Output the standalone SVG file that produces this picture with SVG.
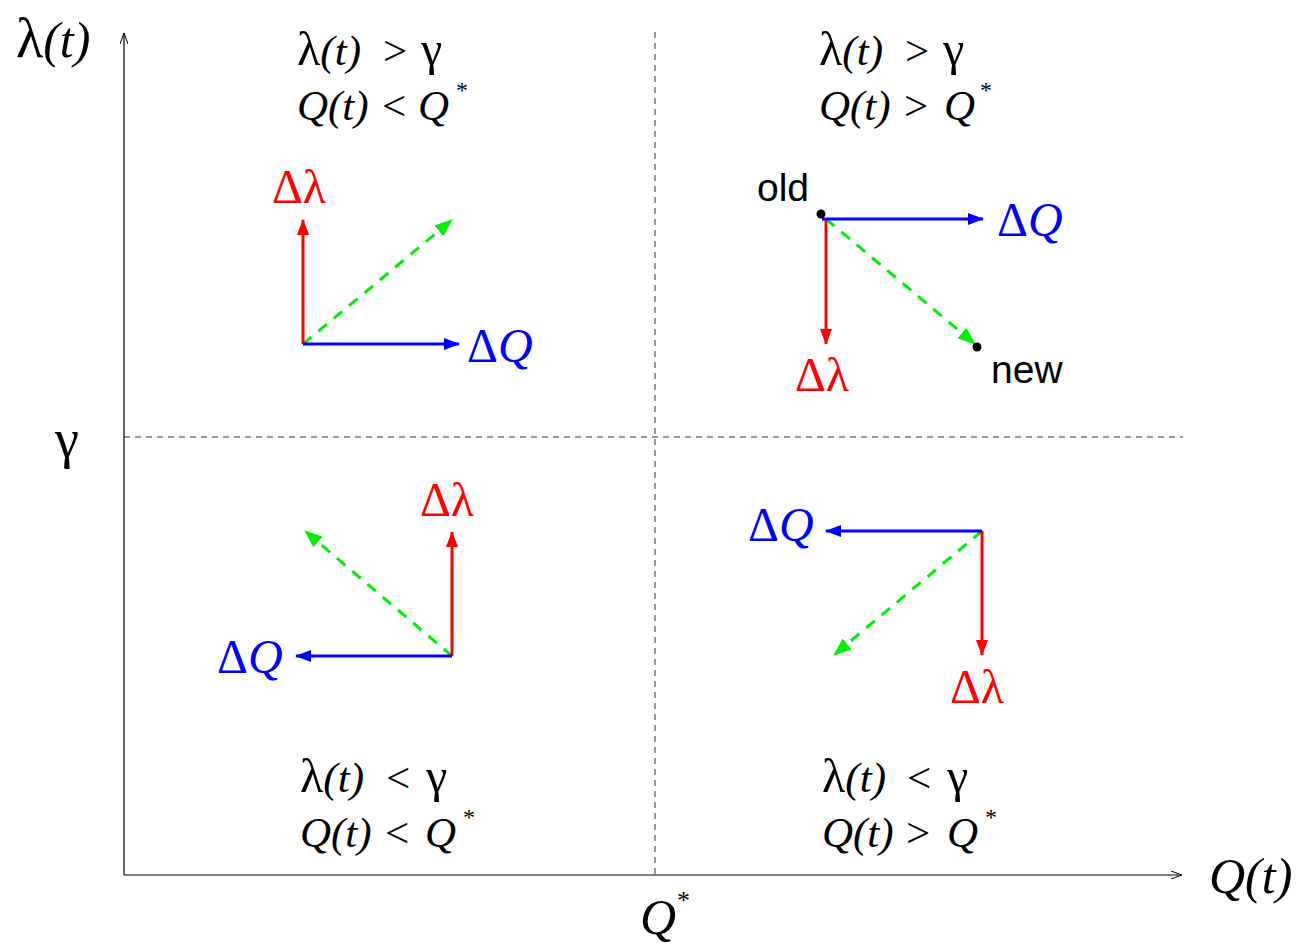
<svg xmlns="http://www.w3.org/2000/svg" width="1298" height="946" viewBox="0 0 1298 946">
<style>
text{font-family:"Liberation Serif","Times New Roman",serif;}
.m{font-size:43px;fill:#000;}
.i{font-style:italic;}
.lam{font-size:1.12em;}
.sup{font-size:24px;}
.lbl{font-size:48px;}
.red{fill:#ff0000;}
.blue{fill:#0000ff;}
.sans{font-family:"Liberation Sans",Arial,sans-serif;font-size:39px;fill:#000;}
.axis{stroke:#000;stroke-width:1.2;fill:none;}
.grid{stroke:#333;stroke-width:1;stroke-dasharray:6,5;fill:none;}
.r{stroke:#ff0000;stroke-width:3;fill:none;}
.b{stroke:#0000ff;stroke-width:3;fill:none;}
.g{stroke:#00ee00;stroke-width:3;fill:none;stroke-dasharray:11,9;}
.big{font-size:50px;}
</style>
<defs>
<marker id="ar" viewBox="0 0 16 12" refX="15" refY="6" markerWidth="16" markerHeight="12" markerUnits="userSpaceOnUse" orient="auto"><path d="M0,0 L16,6 L0,12 Z" fill="#ff0000"/></marker>
<marker id="ab" viewBox="0 0 16 12" refX="15" refY="6" markerWidth="16" markerHeight="12" markerUnits="userSpaceOnUse" orient="auto"><path d="M0,0 L16,6 L0,12 Z" fill="#0000ff"/></marker>
<marker id="ag" viewBox="0 0 18 14" refX="17" refY="7" markerWidth="18" markerHeight="14" markerUnits="userSpaceOnUse" orient="auto"><path d="M0,0 L18,7 L0,14 Z" fill="#00ee00"/></marker>
<marker id="ax" viewBox="0 0 12 8" refX="11" refY="4" markerWidth="12" markerHeight="8" markerUnits="userSpaceOnUse" orient="auto"><path d="M0,0 L11,4 L0,8" fill="none" stroke="#000" stroke-width="1"/></marker>
</defs>

<g id="axes">
<line class="grid" x1="655" y1="32" x2="655" y2="875"/>
<line class="grid" x1="124" y1="437" x2="1183" y2="437"/>
<line class="axis" x1="124" y1="875" x2="124" y2="33" marker-end="url(#ax)"/>
<line class="axis" x1="124" y1="875" x2="1182" y2="875" marker-end="url(#ax)"/>
<text x="16" y="57" class="big"><tspan class="lam">λ</tspan><tspan class="i">(t)</tspan></text>
<text x="1209" y="893" class="big i">Q(t)</text>
<text x="640" y="934" class="big i">Q</text>
<text x="677" y="909" style="font-size:26px">*</text>
<text x="55" y="457" class="big" style="font-size:54px">γ</text>
</g>

<g id="label-q1">
<text class="m" y="65"><tspan x="297" class="lam">λ</tspan><tspan class="i">(t)</tspan><tspan x="383">&gt;</tspan><tspan x="421" class="lam">γ</tspan></text>
<text class="m" y="120"><tspan x="297" class="i">Q(t)</tspan><tspan x="382">&lt;</tspan><tspan x="418" class="i">Q</tspan></text>
<text class="sup" x="456" y="98">*</text>
</g>
<g id="label-q2">
<text class="m" y="65"><tspan x="819" class="lam">λ</tspan><tspan class="i">(t)</tspan><tspan x="905">&gt;</tspan><tspan x="943" class="lam">γ</tspan></text>
<text class="m" y="120"><tspan x="819" class="i">Q(t)</tspan><tspan x="904">&gt;</tspan><tspan x="944" class="i">Q</tspan></text>
<text class="sup" x="980" y="98">*</text>
</g>
<g id="label-q3">
<text class="m" y="792"><tspan x="300" class="lam">λ</tspan><tspan class="i">(t)</tspan><tspan x="386">&lt;</tspan><tspan x="426" class="lam">γ</tspan></text>
<text class="m" y="847"><tspan x="300" class="i">Q(t)</tspan><tspan x="385">&lt;</tspan><tspan x="425" class="i">Q</tspan></text>
<text class="sup" x="463" y="825">*</text>
</g>
<g id="label-q4">
<text class="m" y="792"><tspan x="822" class="lam">λ</tspan><tspan class="i">(t)</tspan><tspan x="907">&lt;</tspan><tspan x="947" class="lam">γ</tspan></text>
<text class="m" y="847"><tspan x="822" class="i">Q(t)</tspan><tspan x="906">&gt;</tspan><tspan x="947" class="i">Q</tspan></text>
<text class="sup" x="985" y="825">*</text>
</g>

<g id="connectors">
<line class="g" x1="303" y1="344" x2="452" y2="220" marker-end="url(#ag)"/>
<line class="r" x1="303" y1="344" x2="303" y2="220" marker-end="url(#ar)"/>
<line class="b" x1="303" y1="344" x2="459" y2="344" marker-end="url(#ab)"/>

<line class="g" x1="826" y1="219" x2="975" y2="344" marker-end="url(#ag)"/>
<line class="r" x1="826" y1="219" x2="826" y2="344" marker-end="url(#ar)"/>
<line class="b" x1="822" y1="219" x2="983" y2="219" marker-end="url(#ab)"/>

<line class="g" x1="452" y1="656" x2="305" y2="531" marker-end="url(#ag)"/>
<line class="r" x1="452" y1="656" x2="452" y2="532" marker-end="url(#ar)"/>
<line class="b" x1="452" y1="656" x2="296" y2="656" marker-end="url(#ab)"/>

<line class="g" x1="982" y1="531" x2="834" y2="655" marker-end="url(#ag)"/>
<line class="r" x1="982" y1="531" x2="982" y2="655" marker-end="url(#ar)"/>
<line class="b" x1="982" y1="531" x2="826" y2="531" marker-end="url(#ab)"/>
</g>

<g id="q1">
<text class="lbl red" x="272" y="203">Δλ</text>
<text class="lbl blue" x="467" y="362">Δ<tspan class="i">Q</tspan></text>
</g>
<g id="q2">
<circle cx="821" cy="214" r="4.5" fill="#000"/>
<circle cx="977" cy="347" r="4.5" fill="#000"/>
<text class="sans" x="757" y="201">old</text>
<text class="sans" x="991" y="383">new</text>
<text class="lbl blue" x="997" y="236">Δ<tspan class="i">Q</tspan></text>
<text class="lbl red" x="795" y="391">Δλ</text>
</g>
<g id="q3">
<text class="lbl red" x="420" y="516">Δλ</text>
<text class="lbl blue" x="217" y="673">Δ<tspan class="i">Q</tspan></text>
</g>
<g id="q4">
<text class="lbl blue" x="748" y="541">Δ<tspan class="i">Q</tspan></text>
<text class="lbl red" x="950" y="703">Δλ</text>
</g>
</svg>
